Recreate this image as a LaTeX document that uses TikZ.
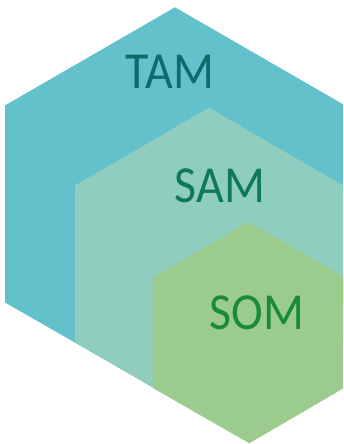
\documentclass[tikz,border=0pt]{standalone}
\usepackage{fontspec}
\setmainfont{Carlito}
\definecolor{tamfill}{HTML}{63C1CC}
\definecolor{samfill}{HTML}{8FCDBF}
\definecolor{somfill}{HTML}{9BCC8E}
\definecolor{tamtext}{HTML}{0F6A6C}
\definecolor{samtext}{HTML}{0E7A56}
\definecolor{somtext}{HTML}{198B3B}
\tikzset{
  hextext/.style={anchor=base, inner sep=0pt, font=\fontsize{52}{52}\selectfont},
}
\newcommand{\narrow}[1]{\scalebox{0.92}[1]{#1}}
\begin{document}
\begin{tikzpicture}[x=1pt,y=-1pt]
\useasboundingbox (0,0) rectangle (343,444);
\clip (0,0) rectangle (343,444);
% outer hexagon: total market
\fill[tamfill] (175,7.3) -- (345,105.4) -- (345,301.6) -- (175,399.9) -- (5,302.5) -- (5,105.4) -- cycle;
% middle hexagon: serviceable market
\fill[samfill] (209,107.7) -- (343,185.5) -- (343,342.5) -- (209,420) -- (75,342.5) -- (75,185.5) -- cycle;
% inner hexagon: obtainable market
\fill[somfill] (248.5,222) -- (344,277) -- (344,388) -- (249.3,443.3) -- (153.5,388.3) -- (153.5,277) -- cycle;
\node[hextext, text=tamtext] (tam) at (170,88.3) {\narrow{TAM}};
\node[hextext, text=samtext] (sam) at (220,202) {\narrow{SAM}};
\node[hextext, text=somtext] (som) at (257,329.5) {\narrow{SOM}};
\end{tikzpicture}
\end{document}
